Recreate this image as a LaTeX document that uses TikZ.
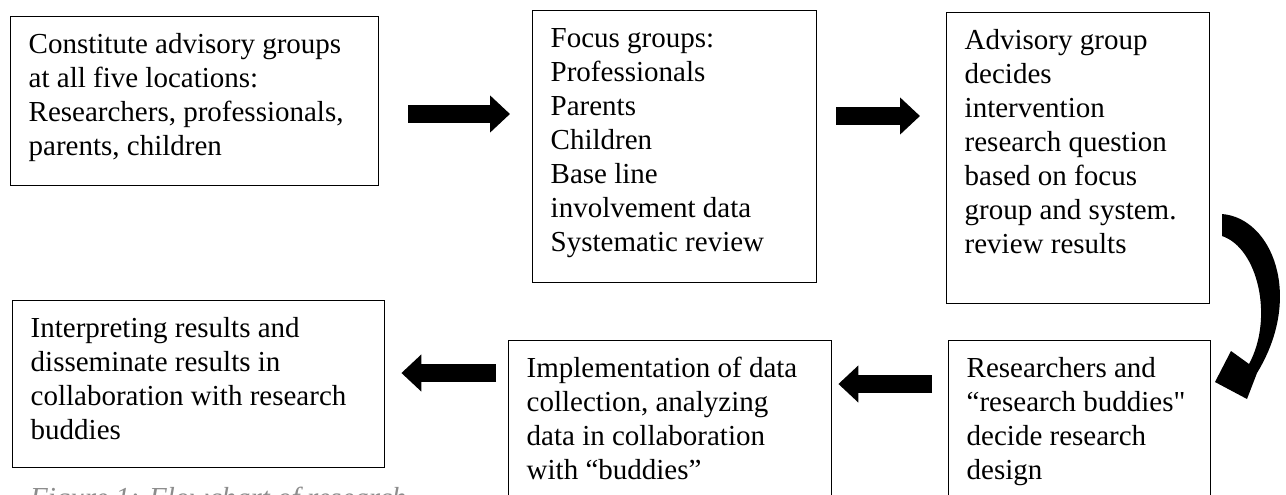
\documentclass[tikz,border=0pt]{standalone}
\usepackage{fontspec}
\setmainfont{Liberation Serif}[Ligatures=TeXOff]
\usetikzlibrary{arrows.meta}

% Text block inside a stage box: width, height, lines
\newcommand{\stagetext}[3]{\parbox[t][#2][t]{#1}{\vspace*{13pt}\raggedright\strut #3}}

\begin{document}
\begin{tikzpicture}[x=1pt, y=-1pt]
        % Styles used by the flowchart
        \tikzset{
            stagebox/.style={draw, line width=1.4pt, anchor=north west,
                inner xsep=18pt, inner ysep=0pt,
                font=\fontsize{29pt}{34pt}\selectfont},
            blockarrow/.style={line width=18pt,
                -{Triangle[length=20pt, width=36pt]}},
        }

        \useasboundingbox (0,0) rectangle (1286,495);
        \clip (0,0) rectangle (1286,495);

        % Upper row
        \node[stagebox] (constitute) at (10,16)
            {\stagetext{332pt}{169pt}{Constitute advisory groups\\at all five locations:\\Researchers, professionals,\\parents, children}};
        \node[stagebox] (focus) at (532,10)
            {\stagetext{248pt}{272pt}{Focus groups:\\Professionals\\Parents\\Children\\Base line\\involvement data\\Systematic review}};
        \node[stagebox] (advisory) at (946,12)
            {\stagetext{227pt}{291pt}{Advisory group\\decides\\intervention\\research question\\based on focus\\group and system.\\review results}};

        % Lower row
        \node[stagebox] (interpret) at (12,300)
            {\stagetext{336pt}{167pt}{Interpreting results and\\disseminate results in\\collaboration with research\\buddies}};
        \node[stagebox] (implement) at (508,340)
            {\stagetext{287pt}{200pt}{Implementation of data\\collection, analyzing\\data in collaboration\\with “buddies”}};
        \node[stagebox] (design) at (948,340)
            {\stagetext{226pt}{200pt}{Researchers and\\“research buddies"\\decide research\\design}};

        % Caption, cut off by the page edge
        \node[anchor=north west, inner sep=0pt, text=black!45,
            font=\fontsize{29pt}{34pt}\selectfont\itshape] (caption) at (30,487)
            {Figure 1: Flowchart of research};

        % Block arrows between the stages
        \draw[blockarrow, shorten <=29pt, shorten >=22pt]
            (constitute.east |- 0,114) -- (focus.west |- 0,114);
        \draw[blockarrow, shorten <=19pt, shorten >=26pt]
            (focus.east |- 0,116) -- (advisory.west |- 0,116);
        \draw[blockarrow, shorten <=16pt, shorten >=6pt]
            (design.west |- 0,384) -- (implement.east |- 0,384);
        \draw[blockarrow, shorten <=12pt, shorten >=16pt]
            (implement.west |- 0,373) -- (interpret.east |- 0,373);

        % Curved arrow from the advisory box down to the design box
        \fill (1222,214) .. controls (1272,218) and (1304,296) .. (1257,373)
            -- (1247,399) -- (1215,382) -- (1231,351) -- (1249,364)
            .. controls (1274,318) and (1258,248) .. (1222,236) -- cycle;

\end{tikzpicture}
\end{document}
